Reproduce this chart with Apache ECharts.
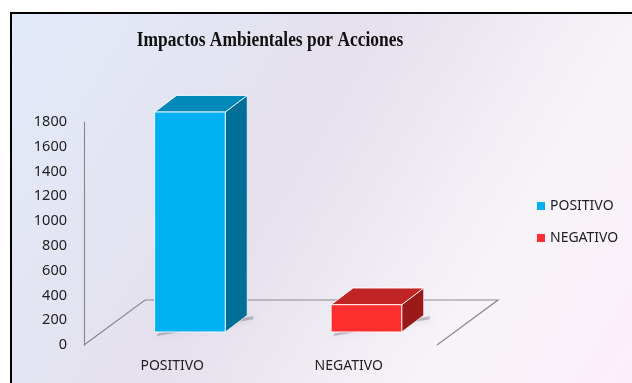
<!DOCTYPE html>
<html>
<head>
<meta charset="utf-8">
<script src="https://cdn.jsdelivr.net/npm/echarts@6/dist/echarts.min.js"></script>
<style>
  html, body { margin: 0; padding: 0; background: #ffffff; }
  #chart { width: 632px; height: 383px; }
</style>
</head>
<body>
<div id="chart"></div>
<script>
// Data
const categories = ['POSITIVO', 'NEGATIVO'];
const seriesNames = ['POSITIVO', 'NEGATIVO'];
const values = [1775, 220];
const yMax = 1800;
const yStep = 200;
const chartTitle = 'Impactos Ambientales por Acciones';

// Face colours for each box: front, top, side
const palette = [
  { front: '#00b0f0', top: '#0089b8', side: '#006e96' },
  { front: '#ff2f2f', top: '#c02424', side: '#9a1a1a' }
];

// Depth of the floor (pixels the back edge is shifted from the front edge)
const FLOOR_DX = 61, FLOOR_DY = -45;

const chart = echarts.init(document.getElementById('chart'), null, { renderer: 'canvas' });

function boxRenderer(colors) {
  return function (params, api) {
    const cat = api.value(0);
    const v = api.value(1);
    const base = api.coord([cat, 0]);
    const top = api.coord([cat, v]);
    const band = api.size([1, 0])[0];
    const w = band * 0.40;
    // front face sits partway into the floor depth
    const fx = FLOOR_DX * 0.29, fy = FLOOR_DY * 0.29;
    const dx = FLOOR_DX * 0.36, dy = FLOOR_DY * 0.37;
    const L = base[0] - w / 2 + fx, R = base[0] + w / 2 + fx;
    const B = base[1] + fy, T = top[1] + fy;
    const edge = 'rgba(255,255,255,0.85)';
    return {
      type: 'group',
      children: [
        {
          type: 'polygon',
          shape: { points: [[L + 4, B + 1], [R + dx + 6, B + dy + 1], [R + dx + 6, B + dy + 4], [L + 2, B + 4]] },
          style: { fill: 'rgba(60,60,70,0.28)', shadowBlur: 6, shadowColor: 'rgba(0,0,0,0.35)' },
          silent: true
        },
        {
          type: 'polygon',
          shape: { points: [[R, B], [R, T], [R + dx, T + dy], [R + dx, B + dy]] },
          style: { fill: colors.side, stroke: edge, lineWidth: 0.8 }
        },
        {
          type: 'polygon',
          shape: { points: [[L, T], [R, T], [R + dx, T + dy], [L + dx, T + dy]] },
          style: { fill: colors.top, stroke: edge, lineWidth: 1 }
        },
        {
          type: 'rect',
          shape: { x: L, y: T, width: R - L, height: B - T },
          style: { fill: colors.front, stroke: edge, lineWidth: 1 }
        }
      ]
    };
  };
}

// Floor outline of the 3D plot area
function floorRenderer(params, api) {
  const cs = params.coordSys;
  const x0 = cs.x, x1 = cs.x + cs.width, y0 = cs.y + cs.height;
  return {
    type: 'polyline',
    shape: { points: [[x0, y0], [x0 + FLOOR_DX, y0 + FLOOR_DY], [x1 + FLOOR_DX, y0 + FLOOR_DY], [x1, y0]] },
    style: { stroke: '#8a8a8a', lineWidth: 1.2, fill: null },
    silent: true
  };
}

const series = [
  {
    name: '__floor',
    type: 'custom',
    renderItem: floorRenderer,
    data: [[0, 0]],
    silent: true,
    z: 1
  }
];
seriesNames.forEach(function (name, i) {
  series.push({
    name: name,
    type: 'custom',
    renderItem: boxRenderer(palette[i]),
    itemStyle: { color: palette[i].front },
    data: [[i, values[i]]],
    z: 3
  });
});

chart.setOption({
  animation: false,
  graphic: [
    {
      type: 'rect',
      z: -10,
      shape: { x: 11, y: 13, width: 640, height: 390 },
      style: {
        fill: {
          type: 'linear', x: 0, y: 0, x2: 1, y2: 1,
          colorStops: [
            { offset: 0, color: '#e2eafa' },
            { offset: 0.42, color: '#e5e0ec' },
            { offset: 0.72, color: '#f6f4f8' },
            { offset: 1, color: '#fdeefa' }
          ]
        },
        stroke: '#000000',
        lineWidth: 2
      },
      silent: true
    },
    {
      type: 'text',
      x: 270,
      y: 31,
      scaleX: 0.87,
      originX: 0,
      style: {
        text: chartTitle,
        align: 'center',
        verticalAlign: 'top',
        fontFamily: 'Liberation Serif',
        fontWeight: 'bold',
        fontSize: 20,
        fill: '#111111'
      },
      silent: true
    }
  ],
  legend: {
    data: seriesNames,
    orient: 'vertical',
    left: 532,
    top: 194,
    itemWidth: 8,
    itemHeight: 8,
    itemGap: 18,
    icon: 'rect',
    textStyle: { fontFamily: 'Noto Sans', fontSize: 14, color: '#222222' }
  },
  grid: { left: 84, right: 195, top: 122, bottom: 38 },
  xAxis: {
    type: 'category',
    data: categories,
    axisLine: { show: false },
    axisTick: { show: false },
    axisLabel: { fontFamily: 'Noto Sans', fontSize: 14, color: '#222222', margin: 14 },
    splitLine: { show: false }
  },
  yAxis: {
    type: 'value',
    min: 0,
    max: yMax,
    interval: yStep,
    axisLine: { show: true, lineStyle: { color: '#8a8a8a', width: 1.2 } },
    axisTick: { show: false },
    splitLine: { show: false },
    axisLabel: {
      fontFamily: 'Noto Sans', fontSize: 14.5, color: '#222222', margin: 17,
      formatter: function (v) { return String(v); }
    }
  },
  series: series
});
</script>
</body>
</html>
